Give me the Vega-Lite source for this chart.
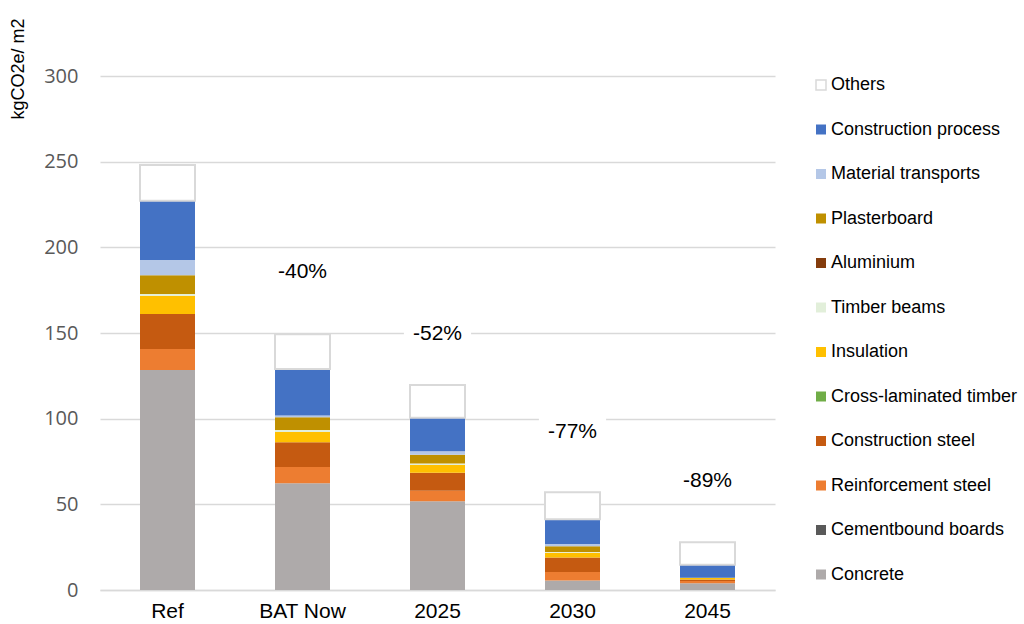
{
  "$schema": "https://vega.github.io/schema/vega-lite/v6.json",
  "autosize": {"type": "none"},
  "width": 675,
  "height": 514,
  "padding": {"left": 100, "top": 76, "right": 249, "bottom": 34},
  "background": "white",
  "config": {"view": {"stroke": null}},
  "datasets": {
    "bars": [
      {"cat": "Ref", "material": "Concrete", "value": 128.4},
      {"cat": "Ref", "material": "Reinforcement steel", "value": 12.3},
      {"cat": "Ref", "material": "Construction steel", "value": 20.4},
      {"cat": "Ref", "material": "Insulation", "value": 10.7},
      {"cat": "Ref", "material": "Timber beams", "value": 1.0},
      {"cat": "Ref", "material": "Plasterboard", "value": 10.9},
      {"cat": "Ref", "material": "Material transports", "value": 8.9},
      {"cat": "Ref", "material": "Construction process", "value": 34.6},
      {"cat": "Ref", "material": "Others", "value": 20.8},
      {"cat": "BAT Now", "material": "Concrete", "value": 62.3},
      {"cat": "BAT Now", "material": "Reinforcement steel", "value": 9.5},
      {"cat": "BAT Now", "material": "Construction steel", "value": 14.4},
      {"cat": "BAT Now", "material": "Insulation", "value": 6.0},
      {"cat": "BAT Now", "material": "Timber beams", "value": 1.2},
      {"cat": "BAT Now", "material": "Plasterboard", "value": 7.4},
      {"cat": "BAT Now", "material": "Material transports", "value": 1.1},
      {"cat": "BAT Now", "material": "Construction process", "value": 27.1},
      {"cat": "BAT Now", "material": "Others", "value": 20.2},
      {"cat": "2025", "material": "Concrete", "value": 51.8},
      {"cat": "2025", "material": "Reinforcement steel", "value": 6.2},
      {"cat": "2025", "material": "Construction steel", "value": 10.5},
      {"cat": "2025", "material": "Insulation", "value": 4.5},
      {"cat": "2025", "material": "Timber beams", "value": 0.9},
      {"cat": "2025", "material": "Plasterboard", "value": 5.1},
      {"cat": "2025", "material": "Material transports", "value": 2.0},
      {"cat": "2025", "material": "Construction process", "value": 19.6},
      {"cat": "2025", "material": "Others", "value": 19.0},
      {"cat": "2030", "material": "Concrete", "value": 5.6},
      {"cat": "2030", "material": "Reinforcement steel", "value": 4.9},
      {"cat": "2030", "material": "Construction steel", "value": 8.4},
      {"cat": "2030", "material": "Insulation", "value": 2.9},
      {"cat": "2030", "material": "Timber beams", "value": 0.4},
      {"cat": "2030", "material": "Plasterboard", "value": 3.3},
      {"cat": "2030", "material": "Material transports", "value": 1.3},
      {"cat": "2030", "material": "Construction process", "value": 14.5},
      {"cat": "2030", "material": "Others", "value": 15.7},
      {"cat": "2045", "material": "Concrete", "value": 3.9},
      {"cat": "2045", "material": "Reinforcement steel", "value": 1.4},
      {"cat": "2045", "material": "Construction steel", "value": 0.9},
      {"cat": "2045", "material": "Insulation", "value": 1.0},
      {"cat": "2045", "material": "Construction process", "value": 7.6},
      {"cat": "2045", "material": "Others", "value": 13.0}
    ],
    "labels": [
      {"cat": "BAT Now", "label": "-40%", "pos": 185.6},
      {"cat": "2025", "label": "-52%", "pos": 149.4},
      {"cat": "2030", "label": "-77%", "pos": 92.2},
      {"cat": "2045", "label": "-89%", "pos": 63.5}
    ]
  },
  "layer": [
    {
      "data": {"name": "bars"},
      "transform": [
        {"calculate": "indexof(['Concrete', 'Cementbound boards', 'Reinforcement steel', 'Construction steel', 'Cross-laminated timber', 'Insulation', 'Timber beams', 'Aluminium', 'Plasterboard', 'Material transports', 'Construction process', 'Others'], datum.material)", "as": "stackRank"}
      ],
      "mark": {"type": "bar", "width": 55, "strokeWidth": 2},
      "encoding": {
        "x": {
          "field": "cat", "type": "nominal",
          "sort": ["Ref", "BAT Now", "2025", "2030", "2045"],
          "scale": {"paddingInner": 0, "paddingOuter": 0},
          "axis": {
            "title": null, "labelAngle": 0, "ticks": false,
            "domainColor": "#d9d9d9", "domainWidth": 1.5,
            "labelFont": "Liberation Sans", "labelFontSize": 21, "labelColor": "#000000",
            "labelPadding": 10
          }
        },
        "y": {
          "field": "value", "type": "quantitative", "stack": "zero",
          "scale": {"domain": [0, 300]},
          "axis": {
            "values": [0, 50, 100, 150, 200, 250, 300],
            "title": "kgCO2e/ m2",
            "titleFont": "Liberation Sans", "titleFontSize": 18, "titleFontWeight": "normal",
            "titleColor": "#000000",
            "titleX": -82, "titleY": -58, "titleAlign": "right", "titleBaseline": "middle", "titleAngle": -90,
            "domain": false, "ticks": false,
            "gridColor": "#d9d9d9", "gridWidth": 1.5,
            "labelFont": "Open Sans", "labelFontSize": 20, "labelColor": "#595959",
            "labelPadding": 22
          }
        },
        "order": {"field": "stackRank", "type": "quantitative", "sort": "ascending"},
        "color": {
          "field": "material", "type": "nominal",
          "scale": {
            "domain": ["Concrete", "Cementbound boards", "Reinforcement steel", "Construction steel", "Cross-laminated timber", "Insulation", "Timber beams", "Aluminium", "Plasterboard", "Material transports", "Construction process", "Others"],
            "range": ["#AEAAAA", "#595959", "#ED7D31", "#C55A11", "#70AD47", "#FFC000", "#E2EFDA", "#843C0C", "#BF9000", "#B4C7E7", "#4472C4", "#FFFFFF"]
          },
          "legend": {
            "title": null, "orient": "none", "legendX": 712, "legendY": 0,
            "values": ["Others", "Construction process", "Material transports", "Plasterboard", "Aluminium", "Timber beams", "Insulation", "Cross-laminated timber", "Construction steel", "Reinforcement steel", "Cementbound boards", "Concrete"],
            "symbolType": "square", "symbolSize": 100,
            "symbolStrokeColor": "#d9d9d9", "symbolStrokeWidth": 1.5,
            "labelFont": "Liberation Sans", "labelFontSize": 18, "labelColor": "#000000", "labelLimit": 0,
            "labelOffset": 1, "rowPadding": 26.5, "padding": 0,
            "encode": {
              "symbols": {
                "enter": {
                  "stroke": {"signal": "datum.value === 'Others' ? '#d9d9d9' : 'transparent'"}
                },
                "update": {
                  "stroke": {"signal": "datum.value === 'Others' ? '#d9d9d9' : 'transparent'"}
                }
              }
            }
          }
        },
        "stroke": {
          "condition": {"test": "datum.material === 'Others'", "value": "#d9d9d9"},
          "value": null
        }
      }
    },
    {
      "data": {"name": "labels"},
      "mark": {"type": "point", "shape": "M-1.4,-0.6H1.4V0.6H-1.4Z", "size": 2304, "filled": true, "fill": "white", "opacity": 1, "strokeWidth": 0},
      "encoding": {
        "x": {"field": "cat", "type": "nominal", "sort": ["Ref", "BAT Now", "2025", "2030", "2045"]},
        "y": {"field": "pos", "type": "quantitative"}
      }
    },
    {
      "data": {"name": "labels"},
      "mark": {"type": "text", "font": "Liberation Sans", "fontSize": 21, "color": "#000000", "baseline": "middle", "align": "center"},
      "encoding": {
        "x": {"field": "cat", "type": "nominal", "sort": ["Ref", "BAT Now", "2025", "2030", "2045"]},
        "y": {"field": "pos", "type": "quantitative"},
        "text": {"field": "label"}
      }
    }
  ]
}
